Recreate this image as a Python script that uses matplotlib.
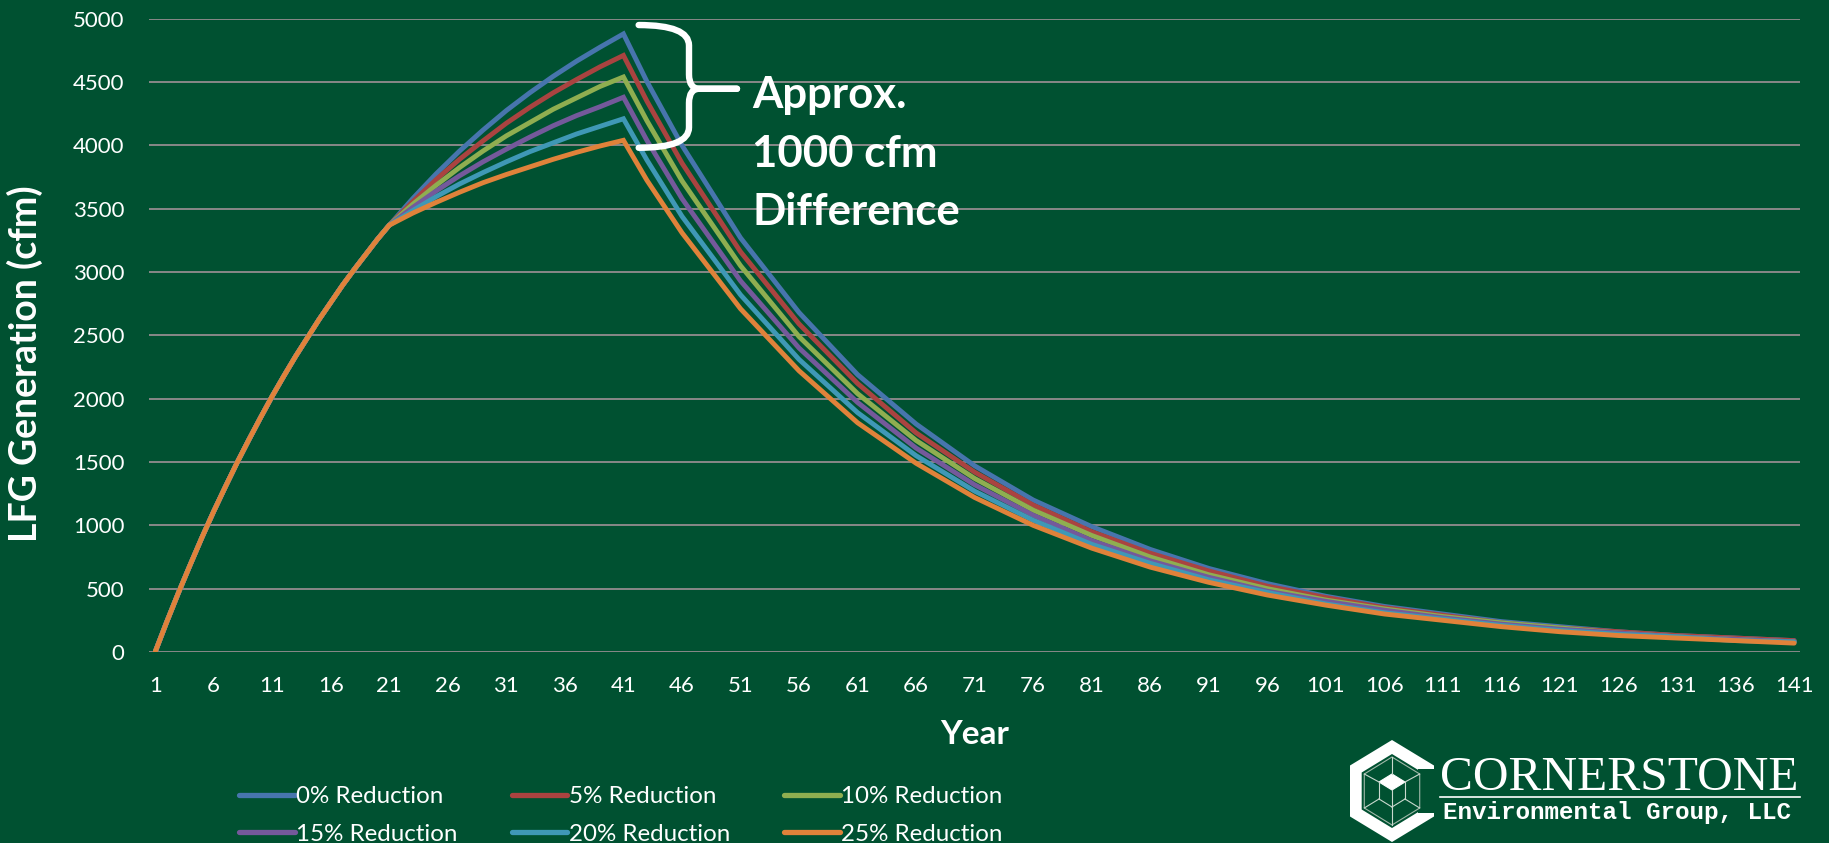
import math
import matplotlib
matplotlib.use("Agg")
import matplotlib.pyplot as plt
from matplotlib.path import Path
from matplotlib.patches import PathPatch, Polygon, Rectangle
from matplotlib.lines import Line2D

# ---- data: LFG generation (cfm) by year ----
# years 1-20 are shared by every scenario (no reduction applied yet)
rise_years = list(range(1, 21))
rise_cfm = [0, 240, 470, 690, 905, 1110, 1305, 1495, 1675, 1850, 2020, 2180,
            2335, 2480, 2625, 2760, 2895, 3020, 3140, 3260]

# from year 21 onward each scenario follows its own curve
tail_years = [21, 23, 25, 27, 29, 31, 33, 35, 37, 39, 41, 43, 46, 51, 56, 61,
              66, 71, 76, 81, 86, 91, 96, 101, 106, 111, 116, 121, 126, 131,
              136, 141]

red_0 = [3370, 3580, 3775, 3955, 4120, 4275, 4415, 4545, 4665, 4775, 4880,
         4505, 4000, 3270, 2680, 2190, 1800, 1470, 1200, 990, 810, 660, 540,
         440, 360, 300, 240, 200, 160, 130, 110, 90]
red_5 = [3370, 3555, 3730, 3890, 4035, 4175, 4300, 4415, 4520, 4620, 4710,
         4350, 3860, 3160, 2590, 2120, 1730, 1420, 1160, 950, 780, 640, 520,
         430, 350, 290, 230, 190, 160, 130, 110, 90]
red_10 = [3370, 3535, 3685, 3825, 3955, 4075, 4180, 4285, 4375, 4465, 4540,
          4195, 3720, 3050, 2490, 2040, 1670, 1370, 1120, 920, 750, 610, 500,
          410, 340, 280, 230, 190, 150, 120, 100, 80]
red_15 = [3370, 3510, 3640, 3760, 3870, 3970, 4065, 4155, 4235, 4305, 4380,
          4040, 3580, 2930, 2400, 1970, 1610, 1320, 1080, 880, 720, 590, 480,
          400, 330, 270, 220, 180, 150, 120, 100, 80]
red_20 = [3370, 3485, 3595, 3695, 3785, 3870, 3950, 4020, 4090, 4150, 4210,
          3885, 3440, 2820, 2310, 1890, 1550, 1270, 1040, 850, 700, 570, 470,
          380, 310, 260, 210, 170, 140, 120, 90, 80]
red_25 = [3370, 3465, 3550, 3630, 3705, 3770, 3830, 3890, 3945, 3995, 4040,
          3725, 3310, 2710, 2220, 1810, 1490, 1220, 1000, 820, 670, 550, 450,
          370, 300, 250, 200, 160, 130, 110, 90, 70]

series_labels = ["0% Reduction", "5% Reduction", "10% Reduction",
                 "15% Reduction", "20% Reduction", "25% Reduction"]
series_values = [red_0, red_5, red_10, red_15, red_20, red_25]
series_colors = ["#4775AD", "#AA4340", "#8FAE50", "#74599B", "#3F98B6", "#E0823A"]

y_ticks = [0, 500, 1000, 1500, 2000, 2500, 3000, 3500, 4000, 4500, 5000]
x_ticks = list(range(1, 142, 5))

# ---- styling ----
BG = "#005131"
GRID = "#888888"
plt.rcParams["font.family"] = ["Lato", "DejaVu Sans"]

W, H, DPI = 1829, 843, 100
fig = plt.figure(figsize=(W / DPI, H / DPI), dpi=DPI, facecolor=BG)
ax = fig.add_axes([149.3 / W, 1 - 652 / H, (1800 - 149.3) / W, (652 - 18.7) / H])
ax.set_facecolor(BG)

years_all = rise_years + tail_years
for lbl, vals, col in zip(series_labels, series_values, series_colors):
    ax.plot(years_all, rise_cfm + vals, color=col, lw=3.5, label=lbl,
            solid_joinstyle="miter", solid_capstyle="round", zorder=3)

ax.set_xlim(0.5, 141.5)
ax.set_ylim(0, 5000)
ax.set_yticks(y_ticks)
ax.set_xticks(x_ticks)
ax.set_xticklabels([str(v) for v in x_ticks])
ax.grid(axis="y", color=GRID, lw=1.4, zorder=1)
ax.grid(axis="x", visible=False)
for s in ax.spines.values():
    s.set_visible(False)
ax.tick_params(axis="both", length=0, colors="white", labelsize=16)
ax.tick_params(axis="y", pad=18)
ax.tick_params(axis="x", pad=17)

fig.text(25 / W, 1 - 364 / H, "LFG Generation (cfm)", rotation=90,
         ha="center", va="center", color="white", fontsize=27, fontweight="bold")
fig.text(((149.3 + 1800) / 2) / W, 1 - 735 / H, "Year", ha="center",
         va="center", color="white", fontsize=24, fontweight="bold")

# ---- brace annotation next to the peaks ----
xl, xm, xt = 42.3, 46.6, 50.7
yt, ym, yb = 4950, 4447, 3981
h = 0.32 * (yt - ym)
upper = Path([(xl, yt), (xm, yt), (xm, yt - h), (xm, ym + h * 0.7),
              (xm, ym), (xm + 0.9, ym), (xt, ym)],
             [Path.MOVETO, Path.CURVE3, Path.CURVE3, Path.LINETO,
              Path.CURVE3, Path.CURVE3, Path.LINETO])
lower = Path([(xt, ym), (xm + 0.9, ym), (xm, ym), (xm, ym - h * 0.7),
              (xm, yb + h), (xm, yb), (xl, yb)],
             [Path.MOVETO, Path.LINETO, Path.CURVE3, Path.CURVE3,
              Path.LINETO, Path.CURVE3, Path.CURVE3])
for p in (upper, lower):
    ax.add_patch(PathPatch(p, fill=False, ec="white", lw=4.6,
                           capstyle="round", joinstyle="round",
                           clip_on=False, zorder=5))

for txt, base in [("Approx.", 108), ("1000 cfm", 167), ("Difference", 225)]:
    fig.text(752 / W, 1 - base / H, txt, ha="left", va="baseline",
             color="white", fontsize=31.5, fontweight="bold")

# ---- legend (row-wise order) ----
handles = [Line2D([], [], color=c, lw=3.8, solid_capstyle="round")
           for c in series_colors]
order = [0, 3, 1, 4, 2, 5]
fig.legend([handles[i] for i in order], [series_labels[i] for i in order],
           ncol=3, loc="upper left", bbox_to_anchor=(239 / W, 1 - 786 / H),
           frameon=False, fontsize=17.4, labelcolor="white", handlelength=2.3,
           handletextpad=0.06, columnspacing=2.25, labelspacing=0.7,
           borderpad=0, borderaxespad=0)

# ---- company logo ----
logo = fig.add_axes([0, 0, 1, 1], facecolor="none")
logo.set_xlim(0, W)
logo.set_ylim(H, 0)
logo.axis("off")

cx, cy = 1392, 791


def hexagon(rx, ry):
    return [(cx + rx * math.cos(math.radians(a)), cy + ry * math.sin(math.radians(a)))
            for a in (-90, -30, 30, 90, 150, 210)]


logo.add_patch(Polygon(hexagon(48.5, 51), closed=True, fc="white", ec="none"))
logo.add_patch(Polygon(hexagon(35, 37), closed=True, fc=BG, ec="none"))
logo.add_patch(Rectangle((cx + 26, cy - 22), 30, 44, fc=BG, ec="none"))
inner = hexagon(32, 34)
logo.add_patch(Polygon(inner, closed=True, fill=False, ec="#9fb8a8", lw=0.8))
top, right, mid, left = (cx, cy - 17), (cx + 13, cy - 9), (cx, cy - 1), (cx - 13, cy - 9)
rb, bot, lb = (cx + 13, cy + 8), (cx, cy + 16), (cx - 13, cy + 8)
logo.add_patch(Polygon([top, right, mid, left], closed=True, fc="white",
                       ec="white", lw=0.8))
for a, b in [(left, lb), (right, rb), (mid, bot), (lb, bot), (rb, bot),
             (bot, inner[3]), (lb, inner[4]), (rb, inner[2]),
             (left, inner[5]), (right, inner[1]), (top, inner[0])]:
    logo.plot([a[0], b[0]], [a[1], b[1]], color="#c9d8ce", lw=0.8)

logo.text(1440, 790, "CORNERSTONE", ha="left", va="baseline", color="white",
          fontsize=35.6, family=["Liberation Serif", "DejaVu Serif"])
logo.plot([1440, 1800], [797, 797], color="white", lw=1.2)
logo.text(1443, 819, "Environmental Group, LLC", ha="left", va="baseline",
          color="white", fontsize=17.5, fontweight="bold",
          family=["Liberation Mono", "DejaVu Sans Mono"])

fig.savefig("out.png", dpi=DPI, facecolor=BG)
